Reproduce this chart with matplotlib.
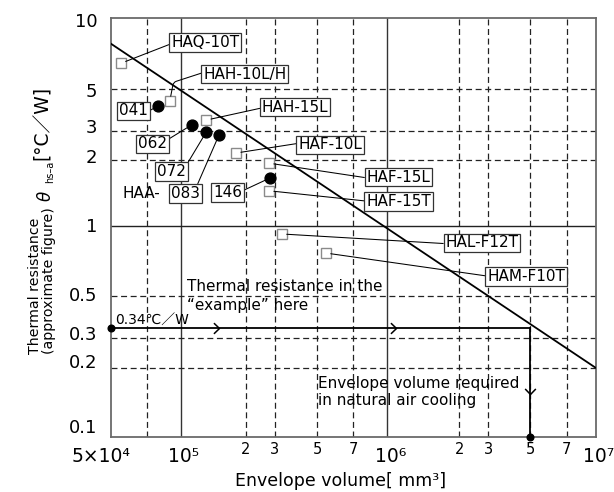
import numpy as np
import matplotlib
matplotlib.use("Agg")
import matplotlib.pyplot as plt
from matplotlib.transforms import blended_transform_factory as blend

plt.rcParams['font.family'] = ['DejaVu Sans', 'Noto Sans CJK JP']
plt.rcParams['lines.scale_dashes'] = False

# ---------------- data ----------------
sq_names = ['HAQ-10T', 'HAH-10L/H', 'HAH-15L', 'HAF-10L', 'HAF-15L',
            'HAF-15T', 'HAL-F12T', 'HAM-F10T']
sq_vol = [5.5e4, 8.9e4, 1.31e5, 1.80e5, 2.77e5, 2.77e5, 3.27e5, 5.42e5]
sq_res = [6.45, 4.33, 3.42, 2.21, 1.94, 1.45, 0.924, 0.765]

haa_names = ['041', '062', '072', '083', '146']
haa_vol = [7.87e4, 1.12e5, 1.31e5, 1.50e5, 2.81e5]
haa_res = [4.07, 3.22, 2.95, 2.83, 1.66]

limit_vol = [5e4, 1e7]
limit_res = [7.8, 0.2]

example_res = 0.34
required_vol = 5e6
min_res = 0.1
chevron_vol = [1.50e5, 1.09e6]
chevron_res = 0.154

x_major = [5e4, 1e5, 1e6, 1e7]
x_major_labels = ['5×10⁴', '10⁵', '10⁶', '10⁷']
x_minor = [2e5, 3e5, 5e5, 7e5, 2e6, 3e6, 5e6, 7e6]
x_minor_labels = ['2', '3', '5', '7', '2', '3', '5', '7']
y_ticks = [10, 5, 3, 2, 1, 0.5, 0.3, 0.2, 0.1]
y_labels = ['10', '5', '3', '2', '1', '0.5', '0.3', '0.2', '0.1']

x_grid_dashed = [7e4, 2e5, 3e5, 5e5, 7e5, 2e6, 3e6, 5e6, 7e6]
x_grid_solid = [1e5, 1e6]
y_grid_dashed = [0.2, 0.3, 0.5, 2, 3, 5]
y_grid_solid = [1]

# ---------------- axis calibration of the (hand-drawn) log grid ----------------
x_cal_vals = [5e4, 7e4, 1e5, 2e5, 3e5, 5e5, 7e5, 1e6, 2e6, 3e6, 5e6, 7e6, 1e7]
x_cal_pos = [0, 35.7, 70, 135, 163.7, 206.3, 242.3, 276.3, 348.3, 377.3, 419, 455.7, 485]
y_cal_vals = [0.1, 0.2, 0.3, 0.5, 1, 2, 3, 5, 10]
y_cal_pos = [0, 69.3, 99.3, 141.3, 211.3, 277, 306.6, 348, 419]


def make_scale(vals, pos):
    lv = np.log10(np.asarray(vals, float))
    ps = np.asarray(pos, float)
    s0 = (ps[1] - ps[0]) / (lv[1] - lv[0])
    s1 = (ps[-1] - ps[-2]) / (lv[-1] - lv[-2])

    def fwd(v):
        v = np.asarray(v, float)
        with np.errstate(divide='ignore', invalid='ignore'):
            L = np.log10(np.where(v > 0, v, np.nan))
        out = np.interp(L, lv, ps)
        out = np.where(L < lv[0], ps[0] + (L - lv[0]) * s0, out)
        out = np.where(L > lv[-1], ps[-1] + (L - lv[-1]) * s1, out)
        return out

    def inv(p):
        p = np.asarray(p, float)
        L = np.interp(p, ps, lv)
        L = np.where(p < ps[0], lv[0] + (p - ps[0]) / s0, L)
        L = np.where(p > ps[-1], lv[-1] + (p - ps[-1]) / s1, L)
        return 10.0 ** L

    return fwd, inv


# ---------------- layout ----------------
box_pos = {
    'HAQ-10T': ((0.194, 0.942), (0, 0.42)),
    'HAH-10L/H': ((0.276, 0.867), (0, 0.6)),
    'HAH-15L': ((0.380, 0.788), (0, 0.45)),
    'HAF-10L': ((0.452, 0.698), (0, 0.6)),
    'HAF-15L': ((0.593, 0.621), (0, 0.45)),
    'HAF-15T': ((0.593, 0.562), (0, 0.55)),
    'HAL-F12T': ((0.765, 0.464), (0, 0.45)),
    'HAM-F10T': ((0.856, 0.383), (0, 0.55)),
    '041': ((0.046, 0.779), (1, 0.45)),
    '062': ((0.085, 0.700), (1, 0.75)),
    '072': ((0.125, 0.634), (1, 0.9)),
    '083': ((0.153, 0.582), (0.9, 1)),
    '146': ((0.240, 0.584), (1, 0.6)),
}
ytick_drop_px = [8.7, 7.7, 2.3, 2.7, 6, 5, 2, 0, -4.3]
xmajor_shift_px = [-10, 2.5, 3.7, 2.5]
PX = 72 / 100.0  # points per pixel

fig = plt.figure(figsize=(6.14, 4.92), dpi=100)
ax = fig.add_axes([111 / 614, 54.7 / 492, 485 / 614, 419 / 492])
ax.set_xscale('function', functions=make_scale(x_cal_vals, x_cal_pos))
ax.set_yscale('function', functions=make_scale(y_cal_vals, y_cal_pos))
ax.set_xlim(x_major[0], x_major[-1])
ax.set_ylim(min(y_ticks), max(y_ticks))
ax.set_xticks([])
ax.set_yticks([])
ax.minorticks_off()
for s in ax.spines.values():
    s.set_color('#6a6a6a')
    s.set_linewidth(1.3)

# grid
for v in x_grid_dashed:
    ax.axvline(v, color='#222222', lw=0.9, dashes=(4.3, 2.6), zorder=1)
for v in x_grid_solid:
    ax.axvline(v, color='#333333', lw=1.0, zorder=1)
for v in y_grid_dashed:
    ax.axhline(v, color='#222222', lw=0.9, dashes=(4.3, 2.6), zorder=1)
for v in y_grid_solid:
    ax.axhline(v, color='#222222', lw=1.0, zorder=1)

# limit line
ax.plot(limit_vol, limit_res, color='black', lw=1.3, zorder=3)

# example path
x0 = ax.get_xlim()[0]
ax.plot([x0, required_vol], [example_res, example_res], color='black', lw=1.3, zorder=3)
ax.plot([required_vol, required_vol], [example_res, min_res], color='black', lw=1.3, zorder=3)
ax.plot([x0, required_vol], [example_res, min_res], ls='none', marker='o', ms=4.8,
        color='black', clip_on=False, zorder=6)
right_chev = [(-1.04, 1), (0, 0), (-1.04, -1)]
down_chev = [(-1, 1.04), (0, 0), (1, 1.04)]
ax.plot(chevron_vol, [example_res] * len(chevron_vol), ls='none', marker=right_chev,
        ms=8, mfc='none', mec='black', mew=1.1, zorder=4)
ax.plot([required_vol], [chevron_res], ls='none', marker=down_chev,
        ms=8, mfc='none', mec='black', mew=1.1, zorder=4)

# markers
ax.plot(sq_vol, sq_res, ls='none', marker='s', ms=7, mfc='white', mec='#8a8a8a',
        mew=1.0, zorder=4)
ax.plot(haa_vol, haa_res, ls='none', marker='o', ms=7.8, color='black', zorder=4)

boxprops = dict(boxstyle='square,pad=0.12', fc='white', ec='#333333', lw=0.9)
for names, vols, ress in ((sq_names, sq_vol, sq_res), (haa_names, haa_vol, haa_res)):
    for n, xv, yv in zip(names, vols, ress):
        (tx, ty), rp = box_pos[n]
        cs = 'angle,angleA=18,angleB=79,rad=3' if n == 'HAH-10L/H' else 'arc3'
        ax.annotate(n, xy=(xv, yv), xytext=(tx, ty), textcoords='axes fraction',
                    ha='center', va='center', fontsize=11, bbox=boxprops, zorder=5,
                    arrowprops=dict(arrowstyle='-', color='black', lw=0.75,
                                    shrinkA=0, shrinkB=3.5, relpos=rp,
                                    connectionstyle=cs))
ax.text(0.062, 0.581, 'HAA-', transform=ax.transAxes, ha='center', va='center',
        fontsize=11, zorder=5)

# annotation texts
ax.text(0.008, 0.272, '0.34℃／W', transform=ax.transAxes, ha='left', va='baseline',
        fontsize=10, zorder=5)
ax.text(0.157, 0.377, 'Thermal resistance in the\n\u201cexample\u201d here',
        transform=ax.transAxes, ha='left', va='top', fontsize=11, linespacing=1.3,
        zorder=5)
ax.text(0.427, 0.146, 'Envelope volume required\nin natural air cooling',
        transform=ax.transAxes, ha='left', va='top', fontsize=11, linespacing=1.15,
        zorder=5)

# tick labels
tx = blend(ax.transData, ax.transAxes)
for v, lab, sh in zip(x_major, x_major_labels, xmajor_shift_px):
    ax.annotate(lab, xy=(v, 0), xycoords=tx, xytext=(sh * PX, -9.7 * PX),
                textcoords='offset points', ha='center', va='top', fontsize=13.5,
                annotation_clip=False)
for v, lab in zip(x_minor, x_minor_labels):
    ax.annotate(lab, xy=(v, 0), xycoords=tx, xytext=(0, -4.7 * PX),
                textcoords='offset points', ha='center', va='top', fontsize=10.5,
                annotation_clip=False)
ty = blend(ax.transAxes, ax.transData)
for v, lab, d in zip(y_ticks, y_labels, ytick_drop_px):
    ax.annotate(lab, xy=(0, v), xycoords=ty, xytext=(-13.5 * PX, -d * PX),
                textcoords='offset points', ha='right', va='baseline', fontsize=13,
                annotation_clip=False)

# axis titles
fig.text(341 / 614, 1 - 486 / 492, 'Envelope volume[ mm³]', ha='center', va='baseline',
         fontsize=12.5)
fig.text(42 / 614, 1 - 354 / 492, 'Thermal resistance\n(approximate figure)',
         rotation=90, ha='center', va='bottom', multialignment='left',
         linespacing=1.05, fontsize=10.2)
fig.text(46 / 614, 1 - 196 / 492, 'θ', rotation=90, ha='center', va='center',
         fontsize=12, style='italic')
fig.text(50.5 / 614, 1 - 172 / 492, 'hs\u2013a', rotation=90, ha='center',
         va='center', fontsize=7)
fig.text(42.5 / 614, 1 - 123 / 492, '[°C／W]', rotation=90, ha='center', va='center',
         fontsize=13.5)

fig.savefig('out.png', dpi=100)
